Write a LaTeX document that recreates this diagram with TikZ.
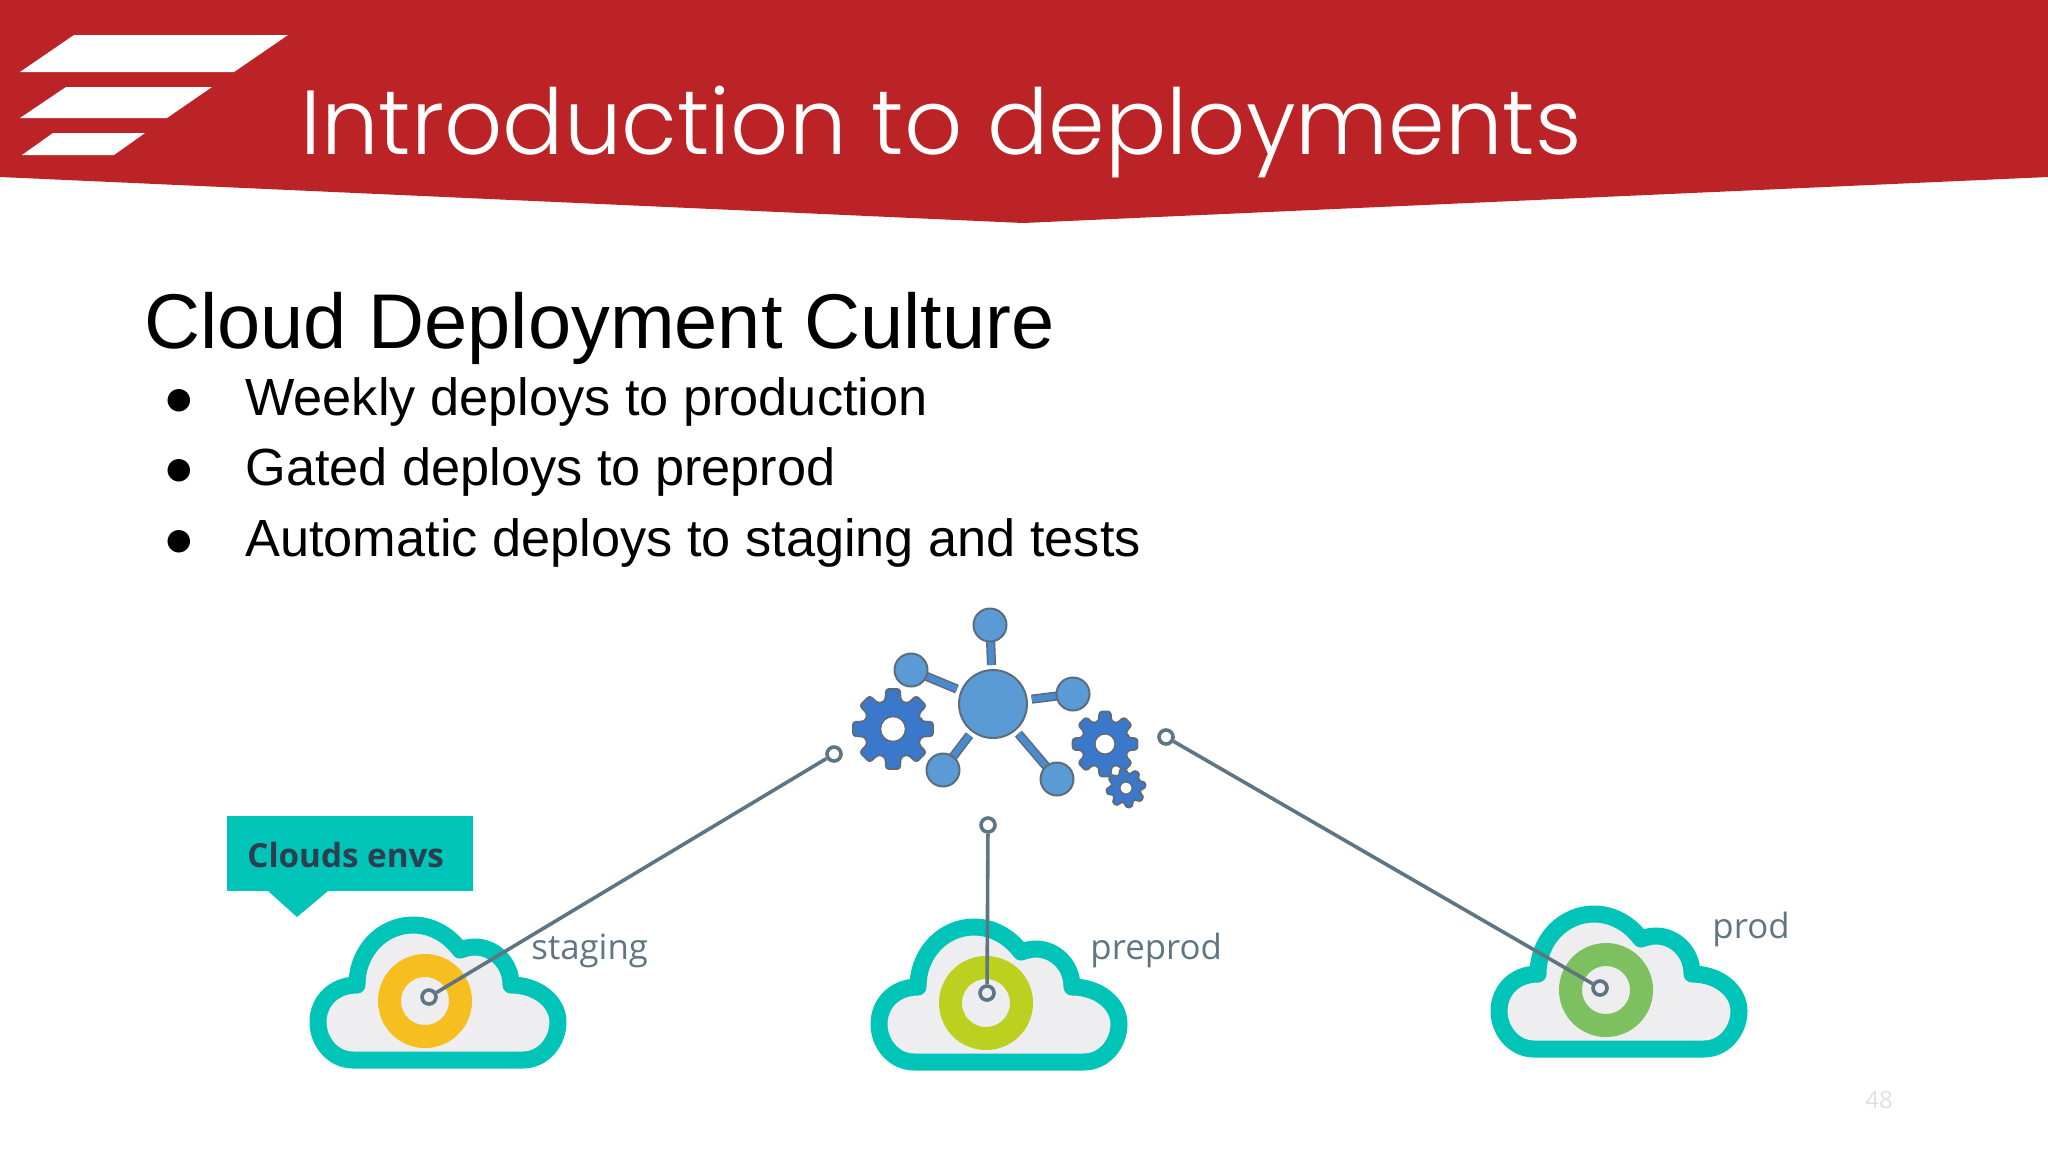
\documentclass[tikz,border=0pt]{standalone}
\usepackage{fontspec}
\setmainfont{Liberation Sans}
\newfontfamily\titlefont[UprightFont={* Light}, Ligatures=NoCommon]{Poppins}
\newfontfamily\roundfont{Open Sans}
\usetikzlibrary{backgrounds}
\definecolor{bannerred}{HTML}{BC2327}
\definecolor{cloudteal}{HTML}{00C4B8}
\definecolor{cloudgrey}{HTML}{EEEEF0}
\definecolor{linegrey}{HTML}{5F7582}
\definecolor{iconedge}{HTML}{5E6B78}
\definecolor{hubblue}{HTML}{5B9BD5}
\definecolor{rodblue}{HTML}{4A8BD0}
\definecolor{gearblue}{HTML}{3A78CC}
\definecolor{ringyellow}{HTML}{F6BE1F}
\definecolor{ringlime}{HTML}{BCD020}
\definecolor{ringgreen}{HTML}{7DC05F}
\definecolor{calloutnavy}{HTML}{2C3E50}
\tikzset{
    port/.style={circle, draw=linegrey, line width=1.8pt, fill=white, minimum size=7pt, inner sep=0pt},
    hubnode/.style={circle, draw=iconedge, line width=1pt, fill=hubblue, minimum size=34pt, inner sep=0pt},
    satnode/.style={circle, draw=iconedge, line width=1pt, fill=hubblue, minimum size=16.5pt, inner sep=0pt},
    rod/.style={line width=.8pt, draw=iconedge, double=rodblue, double distance=3pt, shorten <=2pt, shorten >=-1.5pt},
    link/.style={draw=linegrey, line width=1.8pt},
    envlabel/.style={anchor=base west, inner sep=0pt, text=linegrey, font=\roundfont\fontsize{17.4}{20}\selectfont},
    bulletline/.style={anchor=base west, inner sep=0pt, font=\fontsize{26.15}{30}\selectfont},
}
% cloud with its ring: position, ring colour
\newcommand{\cloudenv}[2]{
    \begin{scope}[shift={#1}]
        \draw[cloudteal, fill=cloudgrey, line width=8.5pt, line join=round] (-85,38) -- (85,38)
            .. controls (105,38) and (120,20) .. (120,0)
            .. controls (120,-20) and (100,-37) .. (73,-37)
            .. controls (73,-60) and (55,-75) .. (37,-75)
            .. controls (32,-75) and (28,-74) .. (22,-72)
            .. controls (10,-88) and (-7,-97) .. (-25,-97)
            .. controls (-55,-97) and (-81,-72) .. (-81,-37)
            .. controls (-105,-37) and (-120,-20) .. (-120,0)
            .. controls (-120,20) and (-105,38) .. (-85,38) -- cycle;
        \draw[#2, line width=11.5pt] (-13,-21) circle (35.5);
    \end{scope}
}
% gear: position, radius, rotation
\newcommand{\gearicon}[3]{
    \begin{scope}[shift={#1}, scale=#2, rotate=#3]
        \draw[iconedge, fill=gearblue, line width=.9pt, rounded corners=1.5pt, line join=round] (-15:.72)
            \foreach \t in {0,45,...,315} { -- (\t-15:.72) -- (\t-10:1) -- (\t+10:1) -- (\t+15:.72) } -- cycle;
        \draw[iconedge, fill=white, line width=.8pt] (0,0) circle (.31);
    \end{scope}
}
\begin{document}
\begin{tikzpicture}[x=.5pt, y=-.5pt]
        \useasboundingbox (0,0) rectangle (2048,1152);

        % banner and logo
        \fill[bannerred] (0,0) -- (2048,0) -- (2048,177) -- (1023,223) -- (0,177) -- cycle;
        \fill[white] (20,72) -- (74,35) -- (288,35) -- (234,72) -- cycle;
        \fill[white] (20,118) -- (66,87) -- (212,87) -- (167,118) -- cycle;
        \fill[white] (22,155) -- (53,133) -- (145,133) -- (114,155) -- cycle;
        \node[anchor=base west, inner sep=0pt, text=white, font=\titlefont\fontsize{45.5}{50}\selectfont] (title) at (300,154) {Introduction to deployments};

        \node[anchor=base west, inner sep=0pt, font=\fontsize{38.8}{42}\selectfont] (heading) at (144,348) {Cloud Deployment Culture};
        \foreach \name/\py/\txt in {weekly/415/Weekly deploys to production, gated/485/Gated deploys to preprod, automatic/556/Automatic deploys to staging and tests} {
            \node[bulletline] (\name) at (245,\py) {\txt};
            \node[bulletline, anchor=base] (\name dot) at (179,\py) {●};
        }

        % hub icon
        \node[hubnode] (hub) at (993,704) {};
        \foreach \name/\px/\py in {satTop/990/625, satLeft/911/670, satRight/1073/694, satDownLeft/943/770, satDownRight/1057/779} {
            \node[satnode] (\name) at (\px,\py) {};
            \begin{scope}[on background layer]
                \draw[rod] (hub) -- (\name);
            \end{scope}
        }
        \gearicon{(893,729)}{40.7}{0}
        \gearicon{(1105,744)}{33}{0}
        \gearicon{(1126,788)}{20}{10}

        % clouds
        \cloudenv{(438,1022)}{ringyellow}
        \cloudenv{(999,1024)}{ringlime}
        \cloudenv{(1619,1011)}{ringgreen}

        % callout
        \node[fill=cloudteal, inner sep=0pt, minimum width=123pt, minimum height=37.5pt, anchor=north west] (callout) at (227,816) {};
        \fill[cloudteal] (268,891) -- (297,917) -- (328,891) -- cycle;
        \node[anchor=base west, inner sep=0pt, text=calloutnavy, font=\roundfont\bfseries\fontsize{16.6}{18}\selectfont] (calloutText) at (247,867) {Clouds envs};

        % environments
        \node[port] (hubStaging) at (834,754) {};
        \node[port] (hubPreprod) at (988,825) {};
        \node[port] (hubProd) at (1166,737) {};
        \node[port, fill=cloudgrey] (envStaging) at (429,997) {};
        \node[port, fill=cloudgrey] (envPreprod) at (987,993) {};
        \node[port, fill=cloudgrey] (envProd) at (1600,988) {};
        \draw[link] (hubStaging) -- (envStaging);
        \draw[link] (hubPreprod) -- (envPreprod);
        \draw[link] (hubProd) -- (envProd);
        \node[envlabel] (stagingLabel) at (531,959) {staging};
        \node[envlabel] (preprodLabel) at (1090,959) {preprod};
        \node[envlabel] (prodLabel) at (1712,938) {prod};

        \node[anchor=base west, inner sep=0pt, text=black!12, font=\roundfont\fontsize{12}{14}\selectfont] (pageNumber) at (1865,1108) {48};
    \end{tikzpicture}
\end{document}
